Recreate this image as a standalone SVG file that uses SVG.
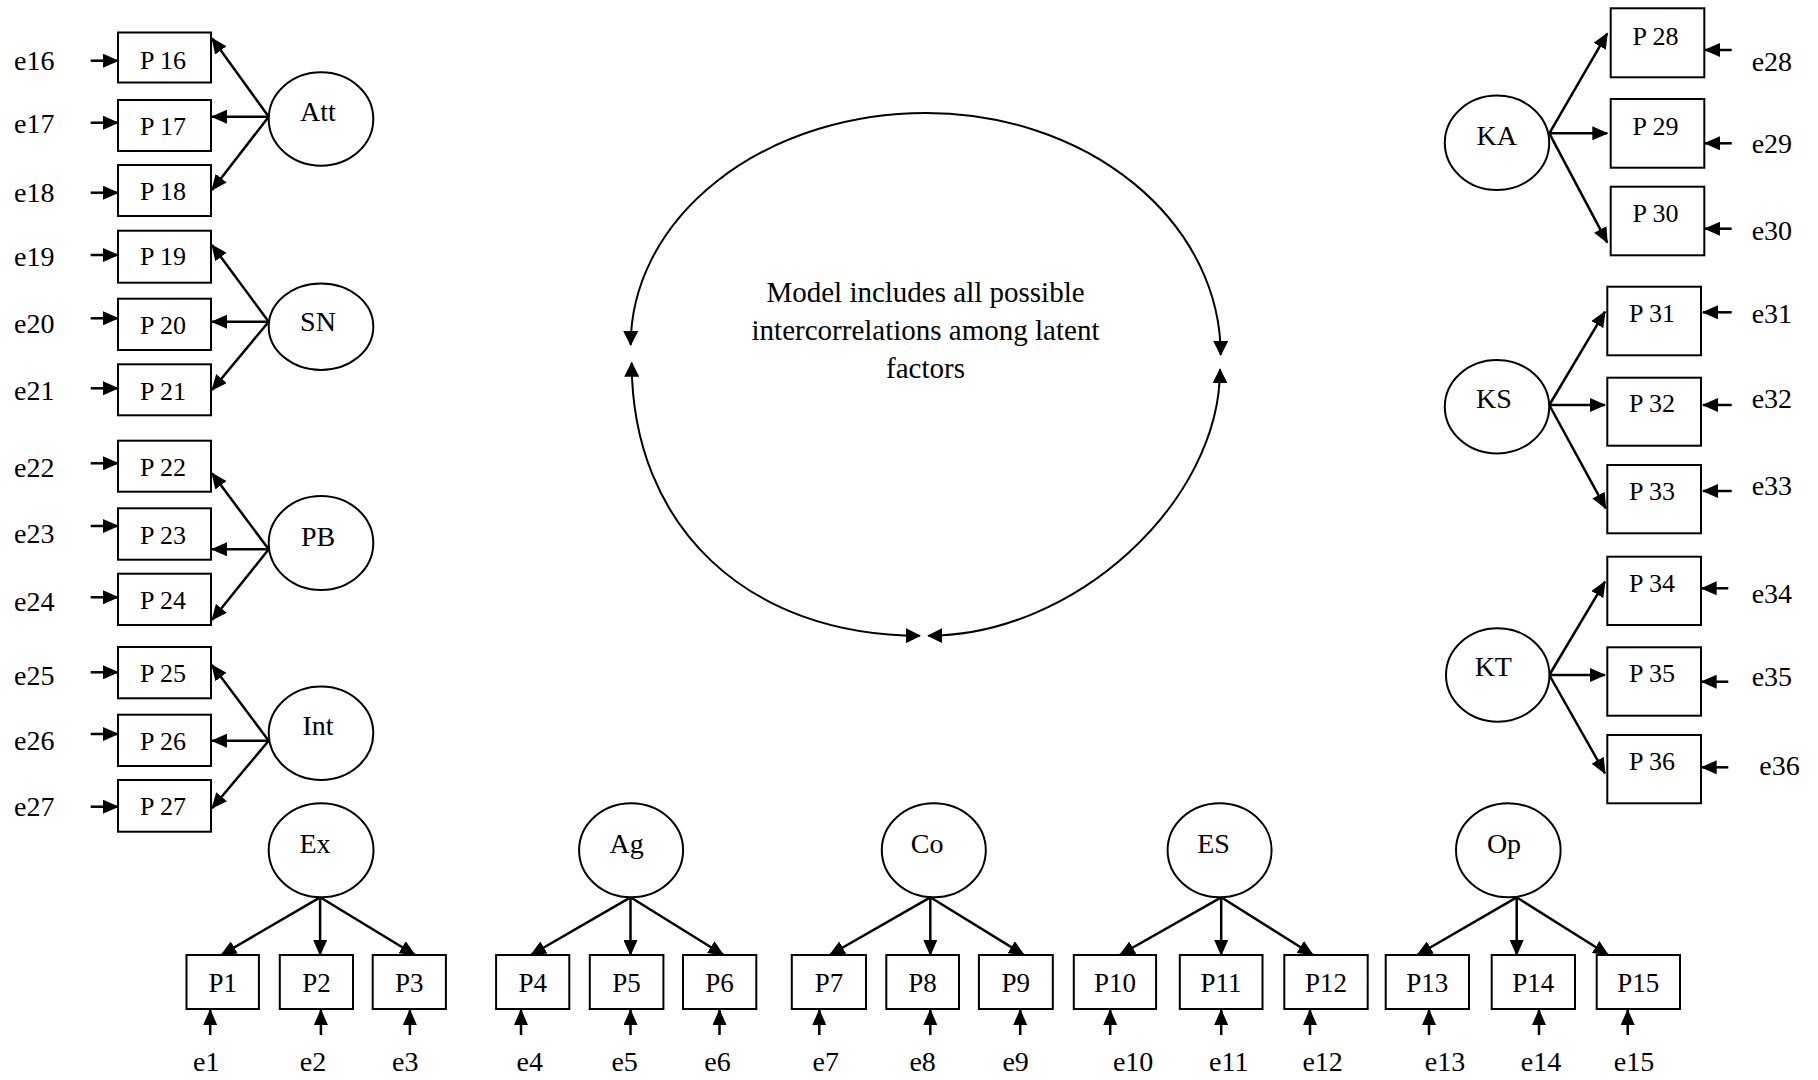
<svg xmlns="http://www.w3.org/2000/svg" width="1818" height="1080" viewBox="0 0 1818 1080">
<style>
text{font-family:"Liberation Serif","Times New Roman",serif;fill:#000}
.obs rect{fill:#fff;stroke:#000;stroke-width:2}
.lat ellipse{fill:#fff;stroke:#000;stroke-width:2}
.pl{font-size:26px;text-anchor:middle}
.pb{font-size:27px;text-anchor:middle}
.ll{font-size:28px;text-anchor:middle}
.el{font-size:28px}
.eb{font-size:28px;text-anchor:middle}
.ct{font-size:29px;text-anchor:middle}
#connectors line{stroke:#000;stroke-width:2.5;marker-end:url(#ah)}
#connectors path{fill:none;stroke:#000;stroke-width:2;marker-start:url(#ah2);marker-end:url(#ah2)}
</style>
<defs>
<marker id="ah" viewBox="0 0 16 14" refX="15" refY="7" markerWidth="16" markerHeight="14" markerUnits="userSpaceOnUse" orient="auto-start-reverse"><path d="M0,0 L16,7 L0,14 z" fill="#000"/></marker>
<marker id="ah2" viewBox="0 0 15 15" refX="14" refY="7.5" markerWidth="15" markerHeight="15" markerUnits="userSpaceOnUse" orient="auto-start-reverse"><path d="M0,0 L15,7.5 L0,15 z" fill="#000"/></marker>
</defs>
<rect width="1818" height="1080" fill="#fff"/>

<g id="connectors">
<!-- correlation arcs -->
<path d="M630.7,345 A295.3,232 0 0 1 926,113 A294.7,242 0 0 1 1220.7,355"/>
<path d="M631.7,362.7 C631.7,526.5 747.2,635.7 920,635.7"/>
<path d="M1220,369.3 C1220,502.5 1074.2,635.7 928.3,635.7"/>
<!-- Att -->
<line x1="268.7" y1="116.7" x2="212" y2="38.3"/>
<line x1="268.7" y1="116.7" x2="212" y2="116.7"/>
<line x1="268.7" y1="116.7" x2="212" y2="190"/>
<!-- SN -->
<line x1="268.7" y1="321.7" x2="212" y2="245"/>
<line x1="268.7" y1="321.7" x2="212" y2="321.7"/>
<line x1="268.7" y1="321.7" x2="212" y2="390"/>
<!-- PB -->
<line x1="268.7" y1="549.3" x2="212" y2="473.3"/>
<line x1="268.7" y1="549.3" x2="212" y2="549.3"/>
<line x1="268.7" y1="549.3" x2="212" y2="620"/>
<!-- Int -->
<line x1="268.7" y1="740.7" x2="212" y2="665"/>
<line x1="268.7" y1="740.7" x2="212" y2="740.7"/>
<line x1="268.7" y1="740.7" x2="212" y2="808.3"/>
<!-- KA -->
<line x1="1549.3" y1="133.3" x2="1607.3" y2="33.3"/>
<line x1="1549.3" y1="133.3" x2="1607.3" y2="133.3"/>
<line x1="1549.3" y1="133.3" x2="1607.3" y2="242.7"/>
<!-- KS -->
<line x1="1549.3" y1="405" x2="1605" y2="311.7"/>
<line x1="1549.3" y1="405" x2="1605" y2="405"/>
<line x1="1549.3" y1="405" x2="1605.7" y2="508.3"/>
<!-- KT -->
<line x1="1549.3" y1="675" x2="1605" y2="581.7"/>
<line x1="1549.3" y1="675" x2="1605" y2="675"/>
<line x1="1549.3" y1="675" x2="1605" y2="773.3"/>
<!-- Ex -->
<line x1="320.1" y1="897.3" x2="221.3" y2="955"/>
<line x1="320.1" y1="897.3" x2="320.1" y2="955"/>
<line x1="320.1" y1="897.3" x2="415" y2="955"/>
<!-- Ag -->
<line x1="630.5" y1="897.3" x2="530.9" y2="955"/>
<line x1="630.5" y1="897.3" x2="630.5" y2="955"/>
<line x1="630.5" y1="897.3" x2="723.5" y2="955"/>
<!-- Co -->
<line x1="930.3" y1="897.3" x2="829.7" y2="955"/>
<line x1="930.3" y1="897.3" x2="930.3" y2="955"/>
<line x1="930.3" y1="897.3" x2="1024" y2="955"/>
<!-- ES -->
<line x1="1221.2" y1="897.3" x2="1119.7" y2="955"/>
<line x1="1221.2" y1="897.3" x2="1221.2" y2="955"/>
<line x1="1221.2" y1="897.3" x2="1313" y2="955"/>
<!-- Op -->
<line x1="1516.7" y1="897.3" x2="1417.3" y2="955"/>
<line x1="1516.7" y1="897.3" x2="1516.7" y2="955"/>
<line x1="1516.7" y1="897.3" x2="1608.3" y2="955"/>
<!-- left error arrows -->
<line x1="90.7" y1="60.7" x2="118" y2="60.7"/>
<line x1="90.7" y1="122.7" x2="118" y2="122.7"/>
<line x1="90.7" y1="192.7" x2="118" y2="192.7"/>
<line x1="90.7" y1="255" x2="118" y2="255"/>
<line x1="90.7" y1="318.3" x2="118" y2="318.3"/>
<line x1="90.7" y1="388.3" x2="118" y2="388.3"/>
<line x1="90.7" y1="463.3" x2="118" y2="463.3"/>
<line x1="90.7" y1="526" x2="118" y2="526"/>
<line x1="90.7" y1="597.3" x2="118" y2="597.3"/>
<line x1="90.7" y1="672.3" x2="118" y2="672.3"/>
<line x1="90.7" y1="734" x2="118" y2="734"/>
<line x1="90.7" y1="806.7" x2="118" y2="806.7"/>
<!-- right error arrows -->
<line x1="1731.7" y1="50" x2="1705" y2="50"/>
<line x1="1731.7" y1="143.3" x2="1705" y2="143.3"/>
<line x1="1731.7" y1="228.7" x2="1705" y2="228.7"/>
<line x1="1731.7" y1="312.3" x2="1703" y2="312.3"/>
<line x1="1731.7" y1="405" x2="1703" y2="405"/>
<line x1="1731.7" y1="491" x2="1703" y2="491"/>
<line x1="1728.3" y1="588.3" x2="1701.7" y2="588.3"/>
<line x1="1728.3" y1="681.7" x2="1701.7" y2="681.7"/>
<line x1="1728.3" y1="767.3" x2="1701.7" y2="767.3"/>
<!-- bottom error arrows -->
<line x1="210.2" y1="1035" x2="210.2" y2="1010"/>
<line x1="320.9" y1="1035" x2="320.9" y2="1010"/>
<line x1="409.9" y1="1035" x2="409.9" y2="1010"/>
<line x1="521" y1="1035" x2="521" y2="1010"/>
<line x1="630.5" y1="1035" x2="630.5" y2="1010"/>
<line x1="719.5" y1="1035" x2="719.5" y2="1010"/>
<line x1="819.3" y1="1035" x2="819.3" y2="1010"/>
<line x1="930.3" y1="1035" x2="930.3" y2="1010"/>
<line x1="1020.2" y1="1035" x2="1020.2" y2="1010"/>
<line x1="1110.2" y1="1035" x2="1110.2" y2="1010"/>
<line x1="1221.2" y1="1035" x2="1221.2" y2="1010"/>
<line x1="1310" y1="1035" x2="1310" y2="1010"/>
<line x1="1429" y1="1035" x2="1429" y2="1010"/>
<line x1="1539" y1="1035" x2="1539" y2="1010"/>
<line x1="1627.7" y1="1035" x2="1627.7" y2="1010"/>
</g>

<text class="ct" x="925.5" y="301.7">Model includes all possible</text>
<text class="ct" x="925.5" y="340">intercorrelations among latent</text>
<text class="ct" x="925.5" y="377.7">factors</text>

<!-- latent factors -->
<g class="lat">
<g id="Att"><ellipse cx="321" cy="119" rx="52.3" ry="46.7"/><text class="ll" x="318" y="121">Att</text></g>
<g id="SN"><ellipse cx="321" cy="326.7" rx="52.3" ry="43.3"/><text class="ll" x="318" y="331">SN</text></g>
<g id="PB"><ellipse cx="321" cy="543" rx="52.3" ry="47"/><text class="ll" x="318" y="546">PB</text></g>
<g id="Int"><ellipse cx="321" cy="733.3" rx="52.3" ry="46.7"/><text class="ll" x="318" y="734.5">Int</text></g>
<g id="KA"><ellipse cx="1497" cy="142.8" rx="52.2" ry="47.2"/><text class="ll" x="1496.7" y="144.5">KA</text></g>
<g id="KS"><ellipse cx="1497" cy="406.7" rx="52.2" ry="46.7"/><text class="ll" x="1494" y="408">KS</text></g>
<g id="KT"><ellipse cx="1497.7" cy="675" rx="51.7" ry="46.7"/><text class="ll" x="1493.3" y="676">KT</text></g>
<g id="Ex"><ellipse cx="321.1" cy="850.3" rx="52.4" ry="47"/><text class="ll" x="315" y="853">Ex</text></g>
<g id="Ag"><ellipse cx="631.1" cy="850.3" rx="52" ry="47"/><text class="ll" x="626.6" y="853">Ag</text></g>
<g id="Co"><ellipse cx="933.8" cy="850.3" rx="52" ry="47"/><text class="ll" x="927.2" y="853">Co</text></g>
<g id="ES"><ellipse cx="1219.6" cy="850.3" rx="52" ry="47"/><text class="ll" x="1213.5" y="853">ES</text></g>
<g id="Op"><ellipse cx="1508.3" cy="850.3" rx="52.3" ry="47"/><text class="ll" x="1504" y="853">Op</text></g>
</g>

<!-- observed variables -->
<g class="obs">
<g id="P16"><rect x="118" y="32.5" width="93" height="50"/><text class="pl" x="163" y="68.6">P 16</text></g>
<g id="P17"><rect x="118" y="100" width="93" height="51"/><text class="pl" x="163" y="135.3">P 17</text></g>
<g id="P18"><rect x="118" y="165" width="93" height="51"/><text class="pl" x="163" y="200.3">P 18</text></g>
<g id="P19"><rect x="118" y="230.7" width="93" height="52"/><text class="pl" x="163" y="265.3">P 19</text></g>
<g id="P20"><rect x="118" y="298.7" width="93" height="51.3"/><text class="pl" x="163" y="333.6">P 20</text></g>
<g id="P21"><rect x="118" y="364.3" width="93" height="51"/><text class="pl" x="163" y="400.3">P 21</text></g>
<g id="P22"><rect x="118" y="440.7" width="93" height="51"/><text class="pl" x="163" y="476.3">P 22</text></g>
<g id="P23"><rect x="118" y="508.3" width="93" height="51.4"/><text class="pl" x="163" y="543.6">P 23</text></g>
<g id="P24"><rect x="118" y="573.7" width="93" height="51.3"/><text class="pl" x="163" y="608.6">P 24</text></g>
<g id="P25"><rect x="118" y="647" width="93" height="51.3"/><text class="pl" x="163" y="682">P 25</text></g>
<g id="P26"><rect x="118" y="714.7" width="93" height="51.3"/><text class="pl" x="163" y="750.3">P 26</text></g>
<g id="P27"><rect x="118" y="780" width="93" height="51.7"/><text class="pl" x="163" y="815.3">P 27</text></g>

<g id="P28"><rect x="1610.7" y="8.3" width="93.6" height="69"/><text class="pl" x="1655.5" y="44.6">P 28</text></g>
<g id="P29"><rect x="1610.7" y="99" width="93.6" height="68.7"/><text class="pl" x="1655.5" y="134.6">P 29</text></g>
<g id="P30"><rect x="1610.7" y="186.7" width="93.6" height="68.6"/><text class="pl" x="1655.5" y="222">P 30</text></g>
<g id="P31"><rect x="1607.3" y="286.7" width="93.7" height="68.6"/><text class="pl" x="1652" y="322">P 31</text></g>
<g id="P32"><rect x="1607.3" y="377.7" width="93.7" height="68"/><text class="pl" x="1652" y="412">P 32</text></g>
<g id="P33"><rect x="1607.3" y="465" width="93.7" height="68.3"/><text class="pl" x="1652" y="499.6">P 33</text></g>
<g id="P34"><rect x="1607.3" y="556.7" width="93.7" height="68.3"/><text class="pl" x="1652" y="592">P 34</text></g>
<g id="P35"><rect x="1607.3" y="647.3" width="93.7" height="68.4"/><text class="pl" x="1652" y="682">P 35</text></g>
<g id="P36"><rect x="1607.3" y="735" width="93.7" height="68.3"/><text class="pl" x="1652" y="770.3">P 36</text></g>

<g id="P1"><rect x="186.5" y="955" width="72.4" height="54"/><text class="pb" x="222.7" y="992.3">P1</text></g>
<g id="P2"><rect x="279.8" y="955" width="73.2" height="54"/><text class="pb" x="316.4" y="992.3">P2</text></g>
<g id="P3"><rect x="372.7" y="955" width="73.2" height="54"/><text class="pb" x="409.3" y="992.3">P3</text></g>
<g id="P4"><rect x="496.1" y="955" width="73.2" height="54"/><text class="pb" x="532.7" y="992.3">P4</text></g>
<g id="P5"><rect x="589.8" y="955" width="73.6" height="54"/><text class="pb" x="626.6" y="992.3">P5</text></g>
<g id="P6"><rect x="683" y="955" width="73.3" height="54"/><text class="pb" x="719.6" y="992.3">P6</text></g>
<g id="P7"><rect x="791.8" y="955" width="74.2" height="54"/><text class="pb" x="828.9" y="992.3">P7</text></g>
<g id="P8"><rect x="886.3" y="955" width="72.7" height="54"/><text class="pb" x="922.6" y="992.3">P8</text></g>
<g id="P9"><rect x="978.9" y="955" width="73.9" height="54"/><text class="pb" x="1015.8" y="992.3">P9</text></g>
<g id="P10"><rect x="1073.8" y="955" width="82.3" height="54"/><text class="pb" x="1114.9" y="992.3">P10</text></g>
<g id="P11"><rect x="1179.8" y="955" width="82.7" height="54"/><text class="pb" x="1221.1" y="992.3">P11</text></g>
<g id="P12"><rect x="1284.3" y="955" width="83.4" height="54"/><text class="pb" x="1326" y="992.3">P12</text></g>
<g id="P13"><rect x="1385.7" y="955" width="83.3" height="54"/><text class="pb" x="1427.3" y="992.3">P13</text></g>
<g id="P14"><rect x="1491.7" y="955" width="83.3" height="54"/><text class="pb" x="1533.3" y="992.3">P14</text></g>
<g id="P15"><rect x="1596.7" y="955" width="83.3" height="54"/><text class="pb" x="1638.3" y="992.3">P15</text></g>
</g>

<!-- error terms -->
<g id="errors">
<text class="el" x="14" y="70.2">e16</text>
<text class="el" x="14" y="132.8">e17</text>
<text class="el" x="14" y="202.2">e18</text>
<text class="el" x="14" y="266.2">e19</text>
<text class="el" x="14" y="332.8">e20</text>
<text class="el" x="14" y="399.5">e21</text>
<text class="el" x="14" y="477.2">e22</text>
<text class="el" x="14" y="542.8">e23</text>
<text class="el" x="14" y="611.2">e24</text>
<text class="el" x="14" y="684.5">e25</text>
<text class="el" x="14" y="749.5">e26</text>
<text class="el" x="14" y="816.2">e27</text>
<text class="el" x="1751.7" y="71.2">e28</text>
<text class="el" x="1751.7" y="152.8">e29</text>
<text class="el" x="1751.7" y="239.5">e30</text>
<text class="el" x="1751.7" y="322.8">e31</text>
<text class="el" x="1751.7" y="407.8">e32</text>
<text class="el" x="1751.7" y="494.5">e33</text>
<text class="el" x="1751.7" y="602.8">e34</text>
<text class="el" x="1751.7" y="686.2">e35</text>
<text class="el" x="1759.3" y="774.5">e36</text>
<text class="eb" x="206.3" y="1071">e1</text>
<text class="eb" x="313" y="1071">e2</text>
<text class="eb" x="405.2" y="1071">e3</text>
<text class="eb" x="529.7" y="1071">e4</text>
<text class="eb" x="624.6" y="1071">e5</text>
<text class="eb" x="717.5" y="1071">e6</text>
<text class="eb" x="825.8" y="1071">e7</text>
<text class="eb" x="922.6" y="1071">e8</text>
<text class="eb" x="1015.6" y="1071">e9</text>
<text class="eb" x="1133.1" y="1071">e10</text>
<text class="eb" x="1228.8" y="1071">e11</text>
<text class="eb" x="1322.6" y="1071">e12</text>
<text class="eb" x="1445" y="1071">e13</text>
<text class="eb" x="1541" y="1071">e14</text>
<text class="eb" x="1634" y="1071">e15</text>
</g>
</svg>
